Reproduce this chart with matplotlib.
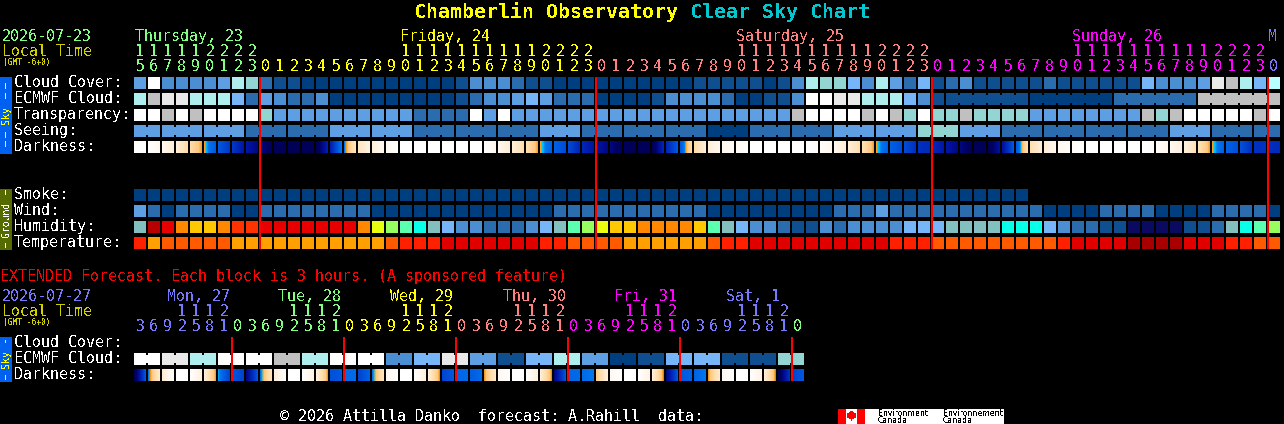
import numpy as np
import matplotlib
matplotlib.use('Agg')
import matplotlib.pyplot as plt
from matplotlib.colors import LinearSegmentedColormap
from matplotlib.patches import Rectangle, Polygon

plt.rcParams['font.family'] = ['DejaVu Sans Mono']
plt.rcParams['text.antialiased'] = False

# sky colour levels, 0 = best ... 10 = white
sky_colors = ['#003f7f', '#0f4f8f', '#2b6cae', '#4c8ed2', '#5e9fe3', '#76b6f8',
              '#aeeeee', '#92d5d2', '#c0c0c0', '#e9e9e9', '#ffffff', '#b8ffff']
hum_colors = ['#0a0a60', '#0f4f8f', '#2b6cae', '#4c8ed2', '#76b6f8', '#82bfbf', '#08ffea',
              '#5affb0', '#98ff60', '#e8ff10', '#ffc800', '#ff8800', '#ff3300', '#e80000', '#b80000']
temp_colors = ['#ffa000', '#ff5a00', '#ff2000', '#e00000', '#a80000']

cloud = [4, 10, 3, 3, 3, 3, 4, 6, 7, 2, 1, 1, 0, 0, 0, 0, 0, 0, 0, 0, 0,
         0, 0, 1, 3, 3, 3, 2, 1, 1, 0, 0, 0,
         0, 0, 0, 0, 0, 0, 0,
         1, 1, 1, 1, 1, 0, 1,
         3, 6, 7, 7, 5,
         3, 6, 4, 2, 5, 1,
         2, 3, 1, 1, 1, 1,
         1, 2, 1, 1, 1, 1, 1, 1,
         5, 3, 3, 3, 4, 9, 8, 6, 5, 11]
ecmwf = [6, 8, 9, 9, 6, 6, 6, 5, 2, 4, 3, 2, 2, 3, 0, 0, 0, 0, 0, 0, 0,
         0, 0, 1, 2, 3, 3, 4, 5, 4, 2, 2, 2, 0, 0, 0, 0, 1, 3, 3, 3, 3, 2, 0, 0, 1, 1, 3, 10, 10, 9, 9,
         6, 6, 6, 5, 3, 1,
         1, 0, 2, 8]
ecmwf_lens = [1] * 58 + [6] * 4
transp = [10, 10, 8, 10, 8, 10, 10, 10, 10, 7, 4, 4, 4, 4, 4, 4, 4, 4, 4, 4, 2,
          2, 2, 2, 10, 4, 10, 4, 4, 4, 4, 4, 4, 4, 4, 4, 4, 4, 4, 4, 4, 4, 4, 4, 4, 4, 4, 8, 10, 10, 10, 10,
          8, 10, 8, 7, 10, 7, 7, 8, 7, 7, 7, 7,
          4, 4, 4, 4, 4, 4, 4, 4, 8, 7, 8, 10, 10, 10, 10, 10, 8, 10]
seeing = [4, 4, 4, 2, 2, 4, 4, 2, 2, 2, 4, 2, 2, 2, 0, 2, 2, 4, 4, 7, 4, 2, 2, 2, 2, 4, 2, 2]
seeing_lens = [2] + [3] * 26 + [2]
smoke = [0] * 64
wind = [4, 2, 0, 2, 2, 2, 2, 0, 0, 2, 2, 2, 2, 2, 2, 2, 2, 0, 0, 0, 0,
        0, 0, 0, 0, 0, 0, 0, 0, 0, 2, 2, 2, 2, 2, 2, 2, 2, 2, 2, 2,
        0, 0, 0, 0, 0, 0, 0, 0, 0, 2, 2,
        2, 4, 2, 2, 2, 2, 2, 2, 2, 2, 2, 2, 2,
        0, 0, 0, 0, 2, 2, 2, 2, 0, 0, 0, 0, 2, 2, 2, 2, 0]
humidity = [5, 14, 13, 11, 10, 10, 11, 12, 12, 13, 13, 13, 13, 13, 13, 13, 11, 9, 8, 7, 6,
            5, 4, 3, 3, 2, 2, 2, 3, 4, 5, 7, 8, 9, 10, 10, 11, 11, 11, 11, 10, 7, 5, 4, 3, 3, 2, 1, 1, 3, 2, 3,
            3, 3, 3, 4, 4, 4, 5, 5, 5, 5, 6, 6, 6, 4, 3, 2, 2, 1, 1, 0, 0, 0, 0, 1, 1, 2, 5, 6, 7, 8]
temperature = [2, 0, 1, 1, 1, 1, 1, 0, 0, 0, 0, 0, 0, 0, 0, 0, 0, 0, 1, 2, 2,
               2, 3, 3, 3, 3, 3, 3, 3, 2, 2, 1, 1, 1, 1, 0, 0, 0, 0, 0, 0, 1, 2, 2, 3, 3, 3, 3, 3, 3, 3, 3,
               3, 3, 2, 2, 2, 1, 1, 1, 1, 1, 1, 1, 1, 1, 2, 3, 3, 3, 3, 4, 4, 4, 4, 3, 3, 3, 2, 2, 1, 1]
# darkness level at each hour boundary, 0 = daylight, 9 = full dark
darkness = [0, 0, 1, 2, 3, 3.95, 5, 5.8, 6.8, 7.5, 8.3, 8.5, 8.5, 8.5, 6.5, 4.3, 2.5, 1.8, 1, 0, 0,
            0, 0, 0, 0, 0, 1, 2, 2.8, 3.95, 4.8, 5.3, 6.3, 6.9, 7.5, 8.3, 8.5, 8.5, 6.3, 5, 3, 2, 1, 0.5,
            0, 0, 0, 0, 0, 0.3, 1, 2, 2.8, 3.95, 4.8, 5.3, 6, 6.2, 6.8, 7.5, 8.3, 8.5, 7, 5, 2.8, 2, 1, 0.3,
            0, 0, 0, 0, 0, 0.3, 1, 1.8, 2.7, 3.95, 4.8, 5.2, 6, 6, 6.2]

ext_ecmwf = [10, 9, 6, 10, 10, 8, 6, 10, 10, 3, 5, 9, 4, 1, 5, 6, 4, 0, 1, 5, 5, 1, 1, 7]
ext_dark_left = [8.5, 4.4, 2.2, 0, 0.2, 2, 4.2, 5, 7.5, 4.4, 2, 0, 0.2, 1.8, 5.2, 4.6, 5.5, 4.4, 1, 0, 0.3, 2, 5.5, 4.7,
                 4.9, 4.0, 1, 0, 0.3, 2, 7.5, 4.7, 4.6, 3.5, 1, 0, 0.2, 2, 7.5, 5, 4.8, 4, 1, 0, 0.3, 2, 8.5, 5.5]
ext_dark_right = [5, 2.2, 0.3, 0, 1.8, 3.95, 5.5, 5.5, 5, 2.5, 0.3, 0, 1.5, 4.0, 5, 4.6, 4.8, 2.5, 0, 0, 1.8, 4.03, 5, 4.6,
                  4.6, 2.2, 0, 0, 1.8, 4.05, 5, 4.6, 4.3, 1.8, 0, 0, 1.5, 4.1, 5, 4.8, 4.3, 2.2, 0, 0, 1.5, 4.1, 6, 5]

hours = [15, 16, 17, 18, 19, 20, 21, 22, 23] + (list(range(24)) * 4)[:73]
day_starts = [0, 9, 33, 57, 81]
day_colors = ['#80ff80', '#ffff00', '#ff8080', '#ff00ff', '#7878ff']
day_names = ['Thursday, 23', 'Friday, 24', 'Saturday, 25', 'Sunday, 26', 'M']
day_label_x = [135, 400, 736, 1072, 1268]

ext_hours = ([3, 6, 9, 12, 15, 18, 21, 0] * 6)
ext_hours = ext_hours[:47] + [0]
ext_starts = [0, 7, 15, 23, 31, 39, 47]
ext_colors = ['#7878ff', '#80ff80', '#ffff00', '#ff8080', '#ff00ff', '#7878ff', '#80ff80']
ext_names = ['Mon, 27', 'Tue, 28', 'Wed, 29', 'Thu, 30', 'Fri, 31', 'Sat, 1']
ext_label_x = [167, 278, 390, 503, 614, 726]

sky_labels = ['Cloud Cover:', 'ECMWF Cloud:', 'Transparency:', 'Seeing:', 'Darkness:']
ground_labels = ['Smoke:', 'Wind:', 'Humidity:', 'Temperature:']

X0 = 134
STEP = 14
CELL = 12

stops = [(0, '#ffffff'), (1, '#fff8f0'), (2, '#ffeed8'), (3, '#ffdca8'), (3.7, '#ffc880'), (4.0, '#f59a1a'),
         (4.1, '#00c8ff'), (4.3, '#0078f0'), (5, '#0058e0'), (6, '#0030c0'), (7, '#0010a0'), (8, '#000060'),
         (9, '#000050')]
dark_cmap = LinearSegmentedColormap.from_list('dark', [(v / 9, c) for v, c in stops], N=1024)

fig = plt.figure(figsize=(12.84, 4.24), dpi=100, facecolor='black')
ax = fig.add_axes([0, 0, 1, 1])
ax.set_facecolor('black')
ax.axis('off')


def box(x, y, w, h, color, z=2):
    ax.add_patch(Rectangle((x, y), w, h, facecolor=color, edgecolor='none', antialiased=False, zorder=z))


def label(x, y, s, color='white', size=10.8, **kw):
    ax.text(x, y, s, color=color, fontsize=size, va='baseline', ha=kw.pop('ha', 'left'), **kw)


def draw_row(values, y, colors, lens=None):
    if lens is None:
        lens = [1] * len(values)
    col = 0
    for v, n in zip(values, lens):
        for k in range(n):
            box(X0 + STEP * (col + k), y, CELL, CELL, colors[v])
            if k < n - 1:
                # merged block, gap only filled in the middle
                box(X0 + STEP * (col + k) + CELL, y + 2, STEP - CELL, CELL - 4, colors[v])
        col += n


def draw_dark(left, right, y):
    for i in range(len(left)):
        grad = np.linspace(left[i], right[i], CELL).reshape(1, -1)
        xs = X0 + STEP * i
        ax.imshow(grad, cmap=dark_cmap, vmin=0, vmax=9, extent=(xs, xs + CELL, y + CELL, y),
                  aspect='auto', interpolation='nearest', zorder=2)


def draw_hours(hrs, starts, colors, y_tens, y_ones):
    for i, h in enumerate(hrs):
        d = max(j for j, s in enumerate(starts) if s <= i)
        xc = X0 + STEP * i + 6
        if h >= 10:
            label(xc, y_tens, str(h // 10), colors[d], ha='center')
        label(xc, y_ones, str(h % 10), colors[d], ha='center')


def side_tag(y, h, color, text, text_color, dashes, size=7.2):
    box(0, y, 12, h, color)
    ax.text(6.5, y + h / 2, text, color=text_color, fontsize=size, rotation=90, ha='center', va='center', zorder=4)
    for d, n in dashes:
        box(5, y + d, 1, n, text_color, z=4)


# title
ax.text(414, 18, 'Chamberlin Observatory', color='#ffff00', fontsize=14.4, fontweight='bold', va='baseline')
ax.text(690, 18, 'Clear Sky Chart', color='#00c8d0', fontsize=14.4, fontweight='bold', va='baseline')

# main header
label(2, 41, '2026-07-23', '#80ff80')
label(2, 56, 'Local Time', '#d0d000')
label(3, 65, '(GMT -6+0)', '#d0d000', size=5.7)
for name, x, c in zip(day_names, day_label_x, day_colors):
    label(x, 41, name, c)
draw_hours(hours, day_starts, day_colors, 56, 71)

# sky block
for k, s in enumerate(sky_labels):
    label(14, 87 + 16 * k, s)
draw_row(cloud, 77, sky_colors)
draw_row(ecmwf, 93, sky_colors, ecmwf_lens)
draw_row(transp, 109, sky_colors)
draw_row(seeing, 125, sky_colors, seeing_lens)
draw_dark(darkness[:-1], darkness[1:], 141)

# ground block
for k, s in enumerate(ground_labels):
    label(14, 199 + 16 * k, s)
draw_row(smoke, 189, sky_colors)
draw_row(wind, 205, sky_colors)
draw_row(humidity, 221, hum_colors)
draw_row(temperature, 237, temp_colors)

# midnight lines
for s in day_starts[1:]:
    box(X0 + STEP * s - 1, 77, 2, 172, '#ff0000', z=3)

# side tags
side_tag(77, 77, '#0060f0', 'Sky', '#ffff00', [(6, 6), (16, 6), (55, 6), (64, 6)])
side_tag(189, 61, '#556b00', 'Ground', 'white', [(1, 5), (54, 5)], size=7)
side_tag(337, 45, '#0060f0', 'Sky', '#ffff00', [(3, 3), (38, 5)])

# extended forecast
label(0, 281, 'EXTENDED Forecast. Each block is 3 hours. (A sponsored feature)', '#ff0000')
label(2, 301, '2026-07-27', '#7878ff')
label(2, 316, 'Local Time', '#d0d000')
label(3, 325, '(GMT -6+0)', '#d0d000', size=5.7)
for name, x, c in zip(ext_names, ext_label_x, ext_colors):
    label(x, 301, name, c)
draw_hours(ext_hours, ext_starts, ext_colors, 316, 331)
for k, s in enumerate(['Cloud Cover:', 'ECMWF Cloud:', 'Darkness:']):
    label(14, 347 + 16 * k, s)
draw_row(ext_ecmwf, 353, sky_colors, [2] * 24)
draw_dark(ext_dark_left, ext_dark_right, 369)
for s in ext_starts[1:]:
    box(X0 + STEP * s - 1, 337, 2, 44, '#ff0000', z=3)

# footer and logo
label(280, 421, '\u00a9 2026 Attilla Danko  forecast: A.Rahill  data:')
box(838, 409, 166, 15, 'white')
box(838, 409, 8, 15, '#ff0000', z=3)
box(857, 409, 8, 15, '#ff0000', z=3)
ax.add_patch(Polygon([(851.5, 411), (854, 414), (856, 413.5), (855.5, 417), (852, 418.5), (852, 421),
                      (851, 421), (851, 418.5), (847.5, 417), (847, 413.5), (849, 414)],
                     facecolor='#ff0000', edgecolor='none', antialiased=False, zorder=3))
for x, a in [(878, 'Environment'), (943, 'Environnement')]:
    ax.text(x, 413, a, color='black', fontsize=5.6, va='center', family='DejaVu Sans', zorder=4)
    ax.text(x, 420.5, 'Canada', color='black', fontsize=5.6, va='center', family='DejaVu Sans', zorder=4)

ax.set_xlim(0, 1284)
ax.set_ylim(424, 0)
fig.savefig('out.png', dpi=100, facecolor='black')
